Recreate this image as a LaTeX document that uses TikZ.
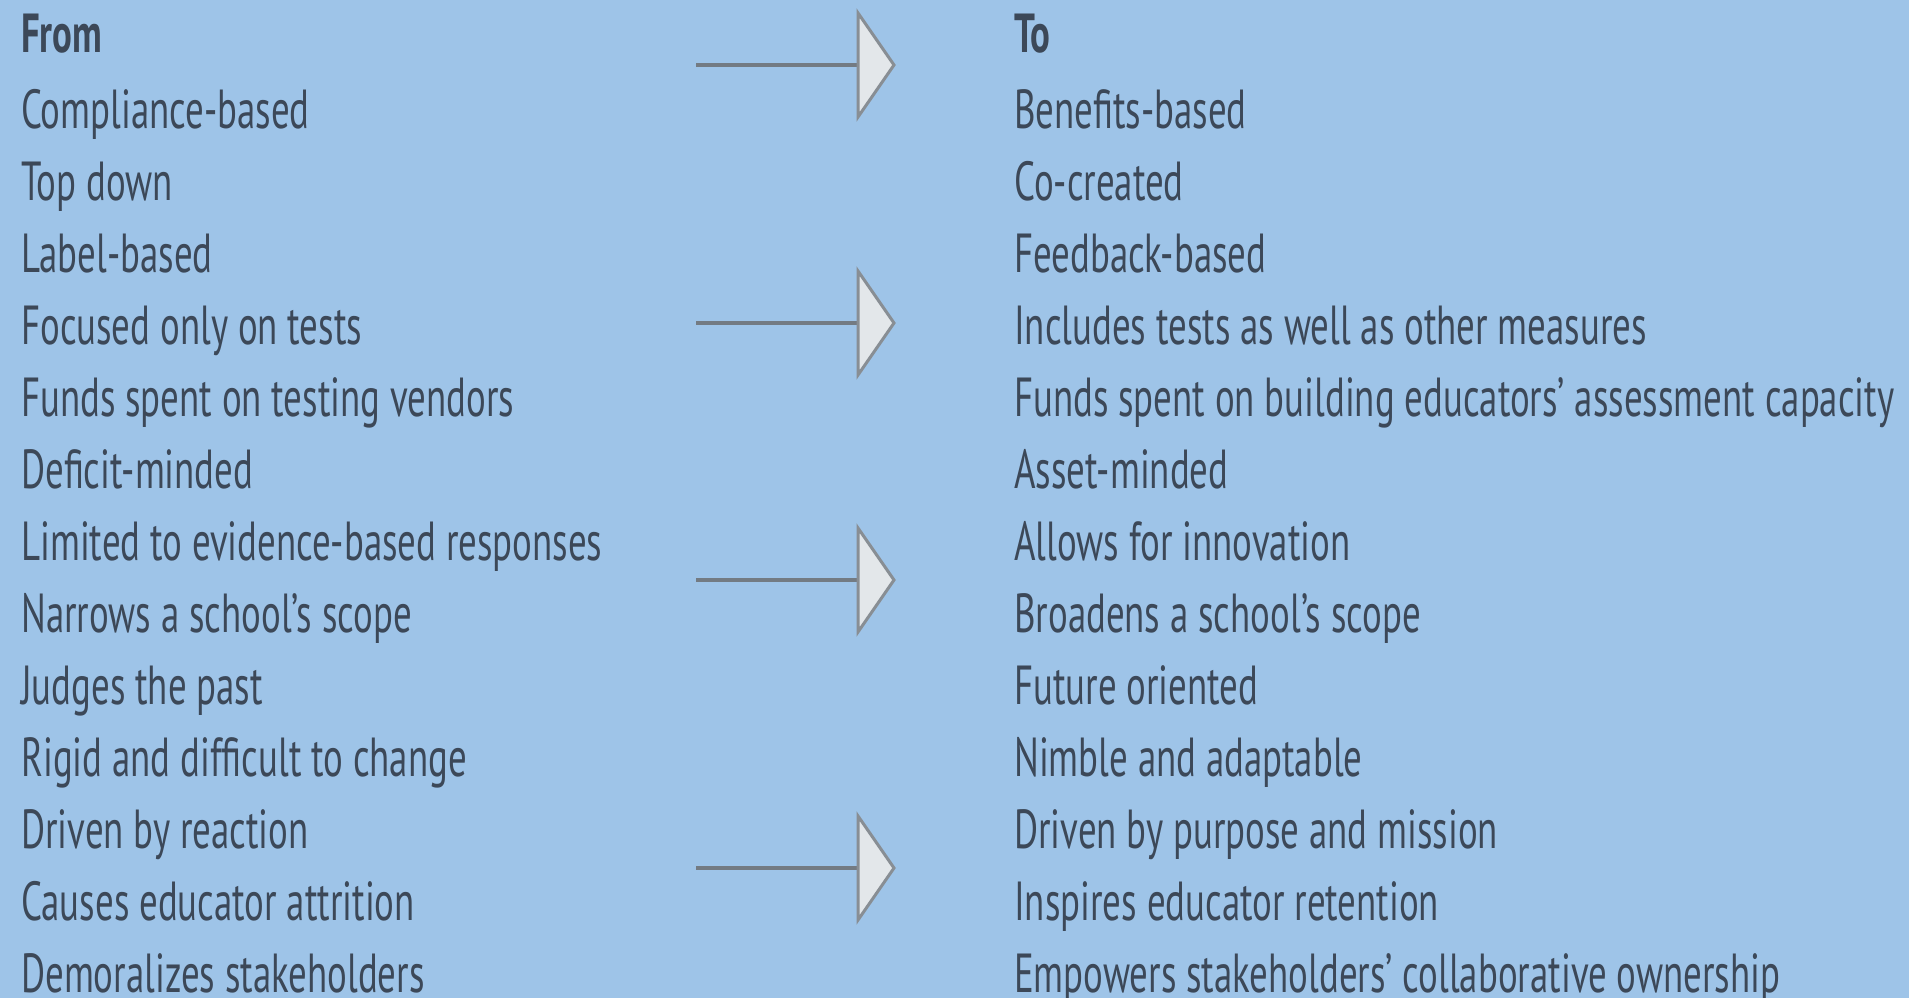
\documentclass[tikz,border=0pt]{standalone}
\usepackage{fontspec}
\setmainfont{PT Sans}[FakeStretch=0.67]
\definecolor{bg}{RGB}{158,196,232}
\definecolor{ink}{RGB}{60,72,88}
\definecolor{shaft}{RGB}{115,123,131}
\definecolor{headfill}{RGB}{227,231,234}
\definecolor{headline}{RGB}{136,142,148}
\tikzset{
  item/.style={anchor=base west, inner sep=0pt, text=ink, font=\fontsize{55}{55}\selectfont},
  head/.style={item, font=\fontsize{55}{55}\selectfont\bfseries},
  shaftline/.style={draw=shaft, line width=4pt},
  tri/.style={draw=headline, fill=headfill, line width=3pt, line join=miter},
}
\begin{document}
\begin{tikzpicture}[x=1pt,y=-1pt]
\fill[bg] (0,0) rectangle (1909,998);
\useasboundingbox (0,0) rectangle (1909,998);

% column headings
\node[head] (from) at (21,53) {From};
\node[head] (to) at (1014,53) {To};

% left column
\foreach \t [count=\i] in {
  Compliance-based, Top down, Label-based, Focused only on tests,
  Funds spent on testing vendors, Deficit-minded,
  Limited to evidence-based responses, Narrows a school’s scope,
  Judges the past, Rigid and difficult to change, Driven by reaction,
  Causes educator attrition, Demoralizes stakeholders}
  \node[item] (l\i) at (21,{128+72*(\i-1)}) {\t};

% right column
\foreach \t [count=\i] in {
  Benefits-based, Co-created, Feedback-based,
  Includes tests as well as other measures,
  Funds spent on building educators’ assessment capacity, Asset-minded,
  Allows for innovation, Broadens a school’s scope, Future oriented,
  Nimble and adaptable, Driven by purpose and mission,
  Inspires educator retention,
  Empowers stakeholders’ collaborative ownership}
  \node[item] (r\i) at (1014,{128+72*(\i-1)}) {\t};

% arrows between the columns
\foreach \y [count=\k] in {65,323,580,868} {
  \coordinate (s\k) at (696,\y);
  \coordinate (e\k) at (858,\y);
  \draw[shaftline] (s\k) -- (e\k);
  \draw[tri] (e\k) ++(0,-52) -- ++(36,52) -- ++(-36,52) -- cycle;
}
\end{tikzpicture}
\end{document}
